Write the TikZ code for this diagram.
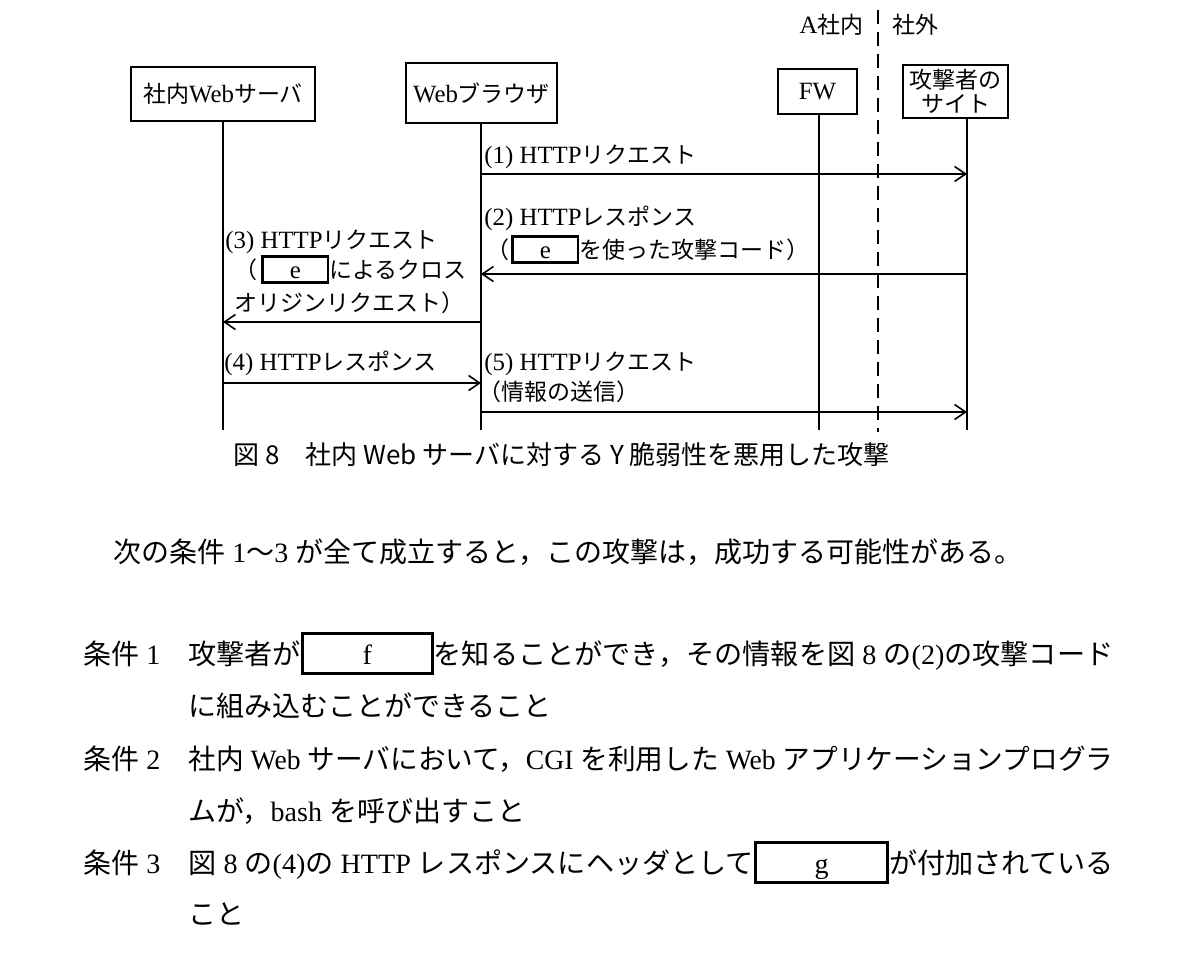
\documentclass[tikz,border=0pt]{standalone}
\usepackage{fontspec}
\usepackage{graphicx}
\setmainfont{Liberation Serif}[Scale=1.08]
\newfontfamily\lat{Liberation Serif}
\newfontfamily\jp{Noto Sans CJK JP}
\usetikzlibrary{arrows.meta}
\newcommand\J[1]{{\jp #1}}
\newcommand\diafont{\fontsize{11.5pt}{13pt}\selectfont}
\newcommand\bodyfont{\fontsize{14pt}{17pt}\selectfont\lat}
\newcommand\capfont{\fontsize{13pt}{16pt}\selectfont\jp}
\newcommand\fullline[1]{\resizebox{462.5pt}{\height}{#1}}
\newcommand\eBox[1]{{\setlength\fboxrule{1.3pt}\setlength\fboxsep{0pt}\fbox{\rule[-1.2pt]{0pt}{11.9pt}\makebox[31.4pt]{#1}}}}
\newcommand\fgBox[2]{{\setlength\fboxrule{1.5pt}\setlength\fboxsep{0pt}\fbox{\rule[-3.8pt]{0pt}{18.1pt}\makebox[#1]{#2}}}}
\tikzset{
  actor/.style={draw, line width=0.9pt, inner sep=0pt, align=center, font=\diafont},
  life/.style={line width=0.8pt},
  msg/.style={line width=0.8pt, -{Straight Barb[length=5.5pt,width=7.5pt,line width=0.8pt]}},
  zone/.style={line width=0.8pt, dash pattern=on 7pt off 4pt},
  lbl/.style={anchor=base west, inner sep=0pt, font=\diafont},
  body/.style={anchor=base west, inner sep=0pt, font=\bodyfont},
}
\begin{document}
\begin{tikzpicture}[x=0.5pt,y=-0.5pt]
\useasboundingbox (0,0) rectangle (1200,978);
\fill[white] (0,0) rectangle (1200,978);
% actors
\node[actor, minimum width=92pt, minimum height=27pt] (S) at (223,94) {\J{社内}Web\J{サーバ}};
\node[actor, minimum width=75.5pt, minimum height=30pt] (B) at (481.5,93) {Web\J{ブラウザ}};
\node[actor, minimum width=39.5pt, minimum height=22.5pt] (F) at (817.5,91.5) {FW};
\node[actor, minimum width=52.5pt, minimum height=26.5pt] (A) at (955.5,91.5) {\J{攻撃者の}\\[-1pt]\J{サイト}};
% zone labels and boundary
\node[lbl, anchor=base east] (inA) at (864,34) {A\J{社内}};
\node[lbl] (outA) at (892,34) {\J{社外}};
\coordinate (dtop) at (878,10);
\coordinate (dbot) at (878,432);
\draw[zone] (dtop) -- (dbot);
% lifelines
\coordinate (Sb) at (223,430);
\coordinate (Bb) at (481,430);
\coordinate (Fb) at (819,430);
\coordinate (Ab) at (967,430);
\draw[life] (S.south) -- (Sb);
\draw[life] (B.south -| Bb) -- (Bb);
\draw[life] (F.south -| Fb) -- (Fb);
\draw[life] (A.south -| Ab) -- (Ab);
% message levels
\coordinate (m1) at (0,174);
\coordinate (m2) at (0,274);
\coordinate (m3) at (0,322);
\coordinate (m4) at (0,383);
\coordinate (m5) at (0,412);
\draw[msg] (Bb |- m1) -- (Ab |- m1);
\draw[msg] (Ab |- m2) -- (Bb |- m2);
\draw[msg] (Bb |- m3) -- (Sb |- m3);
\draw[msg] (Sb |- m4) -- (Bb |- m4);
\draw[msg] (Bb |- m5) -- (Ab |- m5);
% message labels
\node[lbl] (l1) at (484,164) {(1) HTTP\J{リクエスト}};
\node[lbl] (l2a) at (484,226) {(2) HTTP\J{レスポンス}};
\node[lbl] (l2b) at (486,259) {\J{（}\hspace{1pt}\eBox{e}\J{を使った攻撃コード）}};
\node[lbl] (l3a) at (225,249) {(3) HTTP\J{リクエスト}};
\node[lbl] (l3b) at (234,279) {\J{（}\hspace{2pt}\eBox{e}\J{によるクロス}};
\node[lbl] (l3c) at (234,312) {\J{オリジンリクエスト）}};
\node[lbl] (l4) at (224,371) {(4) HTTP\J{レスポンス}};
\node[lbl] (l5a) at (484,371) {(5) HTTP\J{リクエスト}};
\node[lbl] (l5b) at (478,401) {\J{（情報の送信）}};
% caption
\node[anchor=base west, inner sep=0pt, font=\capfont] (cap) at (233,465) {図 8　社内 Web サーバに対する Y 脆弱性を悪用した攻撃};
% body text
\node[body] (t0) at (113,563) {\J{次の条件} 1\J{〜}3 \J{が全て成立すると，この攻撃は，成功する可能性がある。}};
\node[body] (c1) at (83,664) {\J{条件} 1};
\node[body] (c1a) at (188,664) {\fullline{\J{攻撃者が}\fgBox{63pt}{f}\J{を知ることができ，その情報を図} 8 \J{の}(2)\J{の攻撃コード}}};
\node[body] (c1b) at (188,716) {\J{に組み込むことができること}};
\node[body] (c2) at (83,769) {\J{条件} 2};
\node[body] (c2a) at (188,769) {\fullline{\J{社内} Web \J{サーバにおいて，}CGI \J{を利用した} Web \J{アプリケーションプログラ}}};
\node[body] (c2b) at (188,821) {\J{ムが，}bash \J{を呼び出すこと}};
\node[body] (c3) at (83,873) {\J{条件} 3};
\node[body] (c3a) at (188,873) {\fullline{\J{図} 8 \J{の}(4)\J{の} HTTP \J{レスポンスにヘッダとして}\fgBox{64.5pt}{g}\J{が付加されている}}};
\node[body] (c3b) at (188,924) {\J{こと}};
\end{tikzpicture}
\end{document}
